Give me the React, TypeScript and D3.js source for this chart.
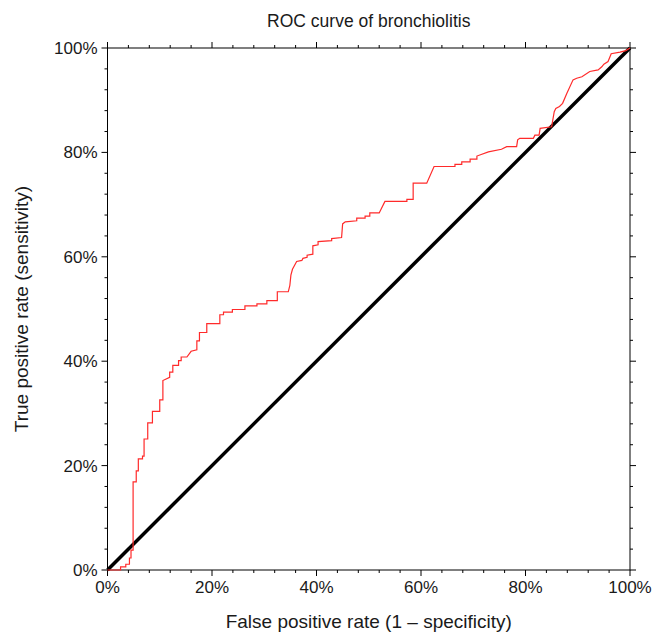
import React from "react";
import * as d3 from "d3";

const TITLE = "ROC curve of bronchiolitis";
const X_TITLE = "False positive rate (1 \u2013 specificity)";
const Y_TITLE = "True positive rate (sensitivity)";

const MAJOR_TICKS = [0, 0.2, 0.4, 0.6, 0.8, 1.0];
const MINOR_TICKS = d3.range(0, 1.0001, 0.04);

// ROC curve vertices: false positive rate
const FPR = [
  0, 0.025, 0.025, 0.035, 0.035, 0.042, 0.042, 0.045, 0.045, 0.049,
  0.049, 0.055, 0.055, 0.059, 0.059, 0.067, 0.067, 0.070, 0.070, 0.077,
  0.077, 0.086, 0.086, 0.100, 0.100, 0.106, 0.106, 0.119, 0.119, 0.125,
  0.125, 0.136, 0.136, 0.141, 0.141, 0.152, 0.160, 0.171, 0.171, 0.176,
  0.176, 0.190, 0.190, 0.215, 0.215, 0.222, 0.222, 0.239, 0.239, 0.263,
  0.263, 0.286, 0.286, 0.305, 0.305, 0.325, 0.325, 0.346, 0.349, 0.351,
  0.354, 0.362, 0.372, 0.374, 0.382, 0.382, 0.393, 0.393, 0.403, 0.403,
  0.429, 0.429, 0.448, 0.450, 0.455, 0.477, 0.477, 0.493, 0.493, 0.502,
  0.502, 0.520, 0.531, 0.573, 0.573, 0.585, 0.585, 0.611, 0.625, 0.665,
  0.665, 0.678, 0.678, 0.694, 0.694, 0.707, 0.707, 0.729, 0.754, 0.764,
  0.783, 0.785, 0.789, 0.815, 0.818, 0.826, 0.828, 0.850, 0.855, 0.858,
  0.865, 0.871, 0.879, 0.891, 0.898, 0.908, 0.923, 0.939, 0.946, 0.950,
  0.958, 0.964, 0.981, 0.992, 1.0,
];
// ROC curve vertices: true positive rate
const TPR = [
  0, 0, 0.006, 0.006, 0.011, 0.011, 0.023, 0.023, 0.038, 0.038,
  0.169, 0.169, 0.190, 0.190, 0.213, 0.213, 0.218, 0.218, 0.251, 0.251,
  0.282, 0.282, 0.304, 0.304, 0.326, 0.326, 0.363, 0.369, 0.379, 0.379,
  0.392, 0.392, 0.401, 0.401, 0.408, 0.408, 0.419, 0.422, 0.439, 0.439,
  0.455, 0.455, 0.472, 0.472, 0.489, 0.489, 0.494, 0.494, 0.499, 0.499,
  0.506, 0.506, 0.510, 0.510, 0.516, 0.516, 0.533, 0.533, 0.545, 0.565,
  0.576, 0.591, 0.593, 0.597, 0.599, 0.603, 0.605, 0.621, 0.623, 0.629,
  0.631, 0.635, 0.637, 0.663, 0.667, 0.669, 0.674, 0.674, 0.678, 0.678,
  0.684, 0.684, 0.706, 0.706, 0.710, 0.710, 0.741, 0.741, 0.773, 0.773,
  0.777, 0.777, 0.782, 0.782, 0.787, 0.787, 0.793, 0.801, 0.806, 0.811,
  0.811, 0.824, 0.827, 0.827, 0.833, 0.833, 0.846, 0.849, 0.878, 0.884,
  0.888, 0.894, 0.913, 0.939, 0.942, 0.945, 0.955, 0.958, 0.964, 0.969,
  0.974, 0.989, 0.992, 0.995, 1.0,
];
const DIAGONAL = [0, 1];

const W = 667;
const H = 635;
const M = { left: 107.5, right: 630, top: 48, bottom: 570 };
const FONT = "'Liberation Sans', Arial, sans-serif";
const TEXT = "#1a1a1a";

export default function App() {
  const x = d3.scaleLinear().domain([0, 1]).range([M.left, M.right]);
  const y = d3.scaleLinear().domain([0, 1]).range([M.bottom, M.top]);
  const fmt = d3.format(".0%");
  const pts: [number, number][] = FPR.map((f, i) => [f, TPR[i]]);
  const line = d3
    .line<[number, number]>()
    .x((d) => x(d[0]))
    .y((d) => y(d[1]));
  const diag: [number, number][] = DIAGONAL.map((v) => [v, v]);
  const isMajor = (t: number) => MAJOR_TICKS.some((m) => Math.abs(m - t) < 1e-6);
  const tickLen = (t: number) => (isMajor(t) ? 6 : 3);

  return (
    <svg
      width={W}
      height={H}
      style={{ position: "absolute", left: 0, top: 0, background: "#fff" }}
      fontFamily={FONT}
    >
      <rect width={W} height={H} fill="#fff" />
      <text x={(M.left + M.right) / 2} y={27} textAnchor="middle" fontSize={17.5} fill={TEXT}>
        {TITLE}
      </text>
      {/* ticks */}
      <g stroke="#000" strokeWidth={1}>
        {MINOR_TICKS.map((t, i) => (
          <g key={i}>
            <line x1={x(t)} x2={x(t)} y1={M.bottom} y2={M.bottom + tickLen(t)} />
            <line x1={x(t)} x2={x(t)} y1={M.top} y2={M.top - tickLen(t)} />
            <line x1={M.left} x2={M.left - tickLen(t)} y1={y(t)} y2={y(t)} />
            <line x1={M.right} x2={M.right + tickLen(t)} y1={y(t)} y2={y(t)} />
          </g>
        ))}
      </g>
      <rect
        x={M.left}
        y={M.top}
        width={M.right - M.left}
        height={M.bottom - M.top}
        fill="none"
        stroke="#000"
        strokeWidth={1}
      />
      {MAJOR_TICKS.map((t, i) => (
        <text key={"x" + i} x={x(t)} y={M.bottom + 23} textAnchor="middle" fontSize={17} fill={TEXT}>
          {fmt(t)}
        </text>
      ))}
      {MAJOR_TICKS.map((t, i) => (
        <text key={"y" + i} x={M.left - 10} y={y(t) + 6} textAnchor="end" fontSize={17} fill={TEXT}>
          {fmt(t)}
        </text>
      ))}
      <text x={(M.left + M.right) / 2} y={628} textAnchor="middle" fontSize={19} fill={TEXT}>
        {X_TITLE}
      </text>
      <text
        transform={`translate(28,${(M.top + M.bottom) / 2}) rotate(-90)`}
        textAnchor="middle"
        fontSize={19}
        fill={TEXT}
      >
        {Y_TITLE}
      </text>
      <path d={line(diag) || ""} fill="none" stroke="#000" strokeWidth={3.5} />
      <path d={line(pts) || ""} fill="none" stroke="#ff2a2a" strokeWidth={1.2} />
    </svg>
  );
}
